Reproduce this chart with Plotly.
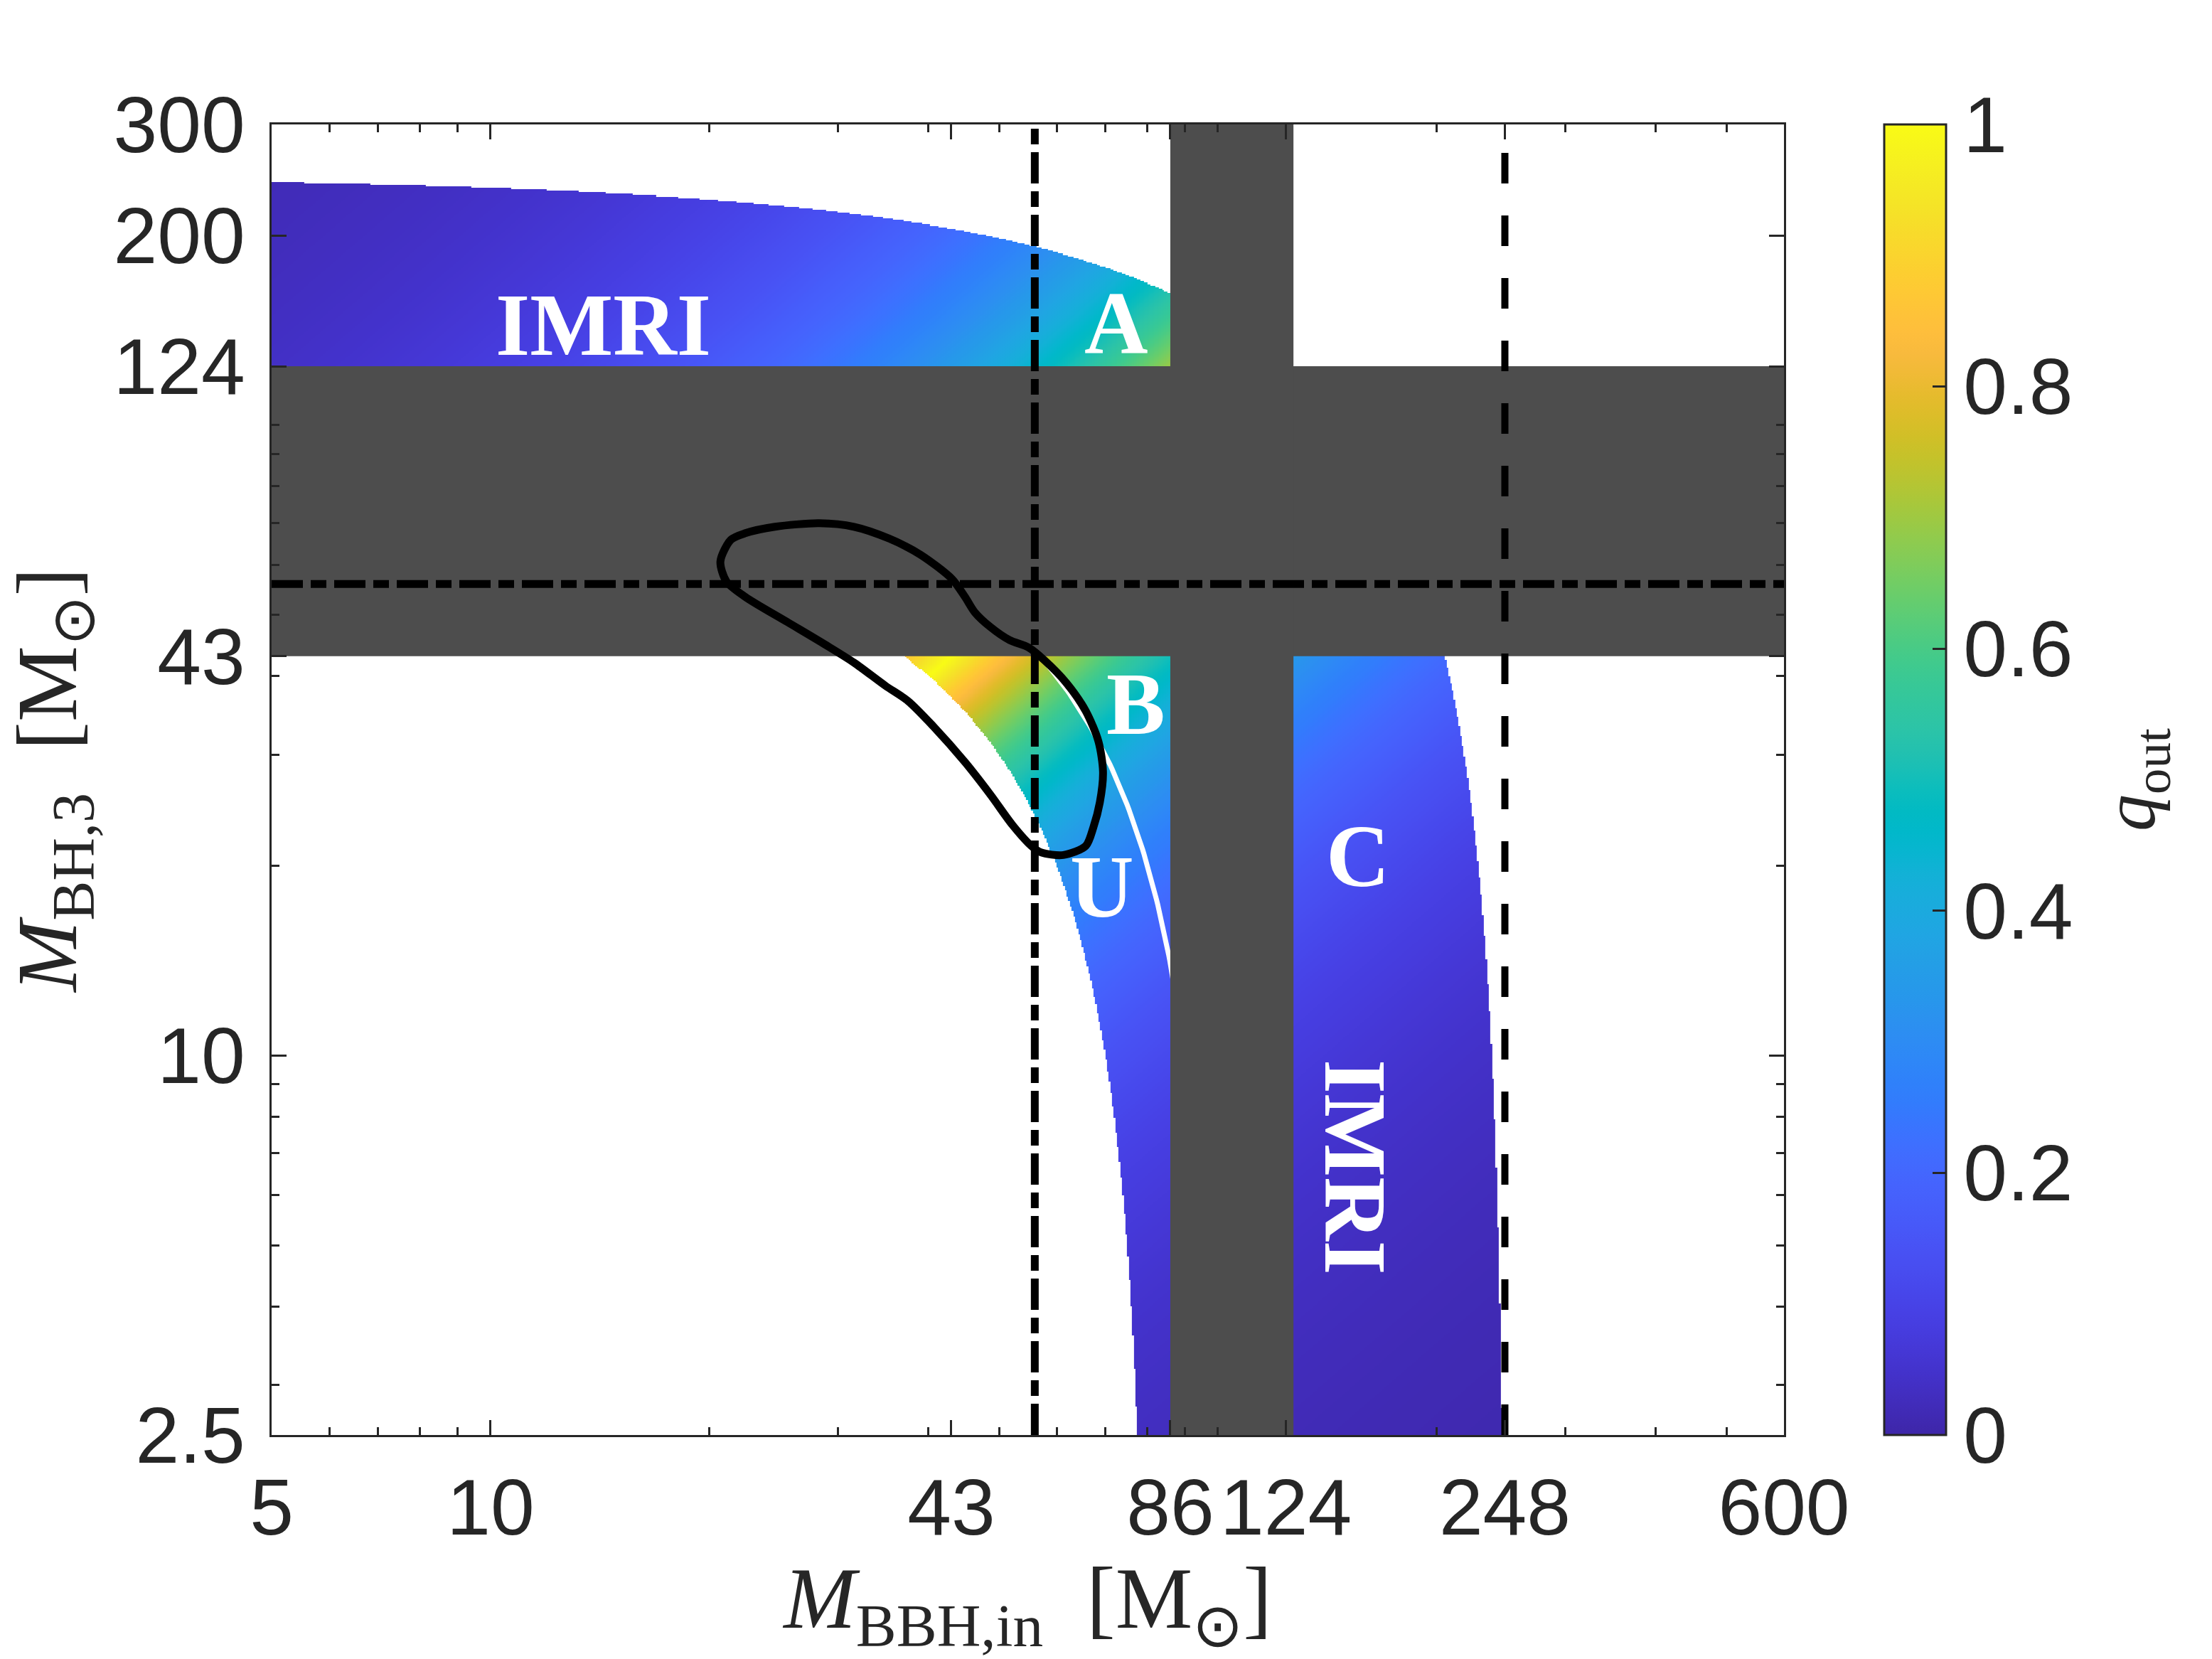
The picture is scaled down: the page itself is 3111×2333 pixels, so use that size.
import numpy as np
import plotly.graph_objects as go

# --- values ---
x_ticks = [5, 10, 43, 86, 124, 248, 600]
y_ticks = [2.5, 10, 43, 124, 200, 300]
x_minor = [6, 7, 8, 9, 20, 30, 40, 50, 60, 70, 80, 90, 100, 200, 300, 400, 500]
y_minor = [3, 4, 5, 6, 7, 8, 9, 20, 30, 40, 50, 60, 70, 80, 90, 100]
cbar_ticks = [0, 0.2, 0.4, 0.6, 0.8, 1]

x_range = [5, 600]
y_range = [2.5, 300]

# total mass limits of the coloured band (M_BBH,in + M_BH,3)
mtot_min = 80
mtot_max = 248
mtot_line = 100          # thin white line inside the band

# excluded (grey) bands
band_h = [43, 124]       # in M_BH,3
band_v = [86, 127]       # in M_BBH,in

# reference lines
dashdot_x = 56
dashdot_y = 56
dashed_x = 248

# closed black contour
contour_x = [20.7, 21.4, 22.4, 24.6, 28.3, 31.6, 35.3, 39.0, 43.1, 44.9, 46.3, 48.7,
             51.7, 54.9, 57.7, 61.9, 65.8, 68.5, 69.5, 68.8, 67.4, 65.8, 61.3, 57.1,
             55.4, 52.2, 48.7, 44.9, 40.6, 37.5, 34.9, 31.6, 28.9, 25.6, 22.4, 21.1, 20.7]
contour_y = [60.8, 65.8, 67.4, 69.0, 69.9, 69.0, 66.1, 62.3, 57.0, 53.4, 50.5, 47.8,
             45.6, 44.4, 42.4, 39.0, 35.2, 31.5, 28.2, 25.2, 23.0, 21.5, 20.8, 21.0,
             21.5, 23.2, 25.9, 29.2, 33.3, 36.5, 38.6, 42.0, 44.8, 48.7, 53.4, 56.5, 60.8]

# region labels: text, x, y, angle
labels = [("IMRI", 14.3, 144, 0), ("A", 72.5, 145, 0), ("B", 77.2, 36.1, 0),
          ("U", 69.3, 18.5, 0), ("C", 155.8, 20.7, 0), ("IMRI", 154.1, 6.66, 90)]

# parula colormap (64 entries)
parula = [
    (0.2422, 0.1504, 0.6603), (0.2504, 0.1650, 0.7076), (0.2578, 0.1818, 0.7511), (0.2647, 0.1978, 0.7952),
    (0.2706, 0.2147, 0.8364), (0.2751, 0.2342, 0.8710), (0.2783, 0.2559, 0.8991), (0.2803, 0.2782, 0.9221),
    (0.2813, 0.3006, 0.9414), (0.2810, 0.3228, 0.9579), (0.2795, 0.3447, 0.9717), (0.2760, 0.3667, 0.9829),
    (0.2699, 0.3892, 0.9906), (0.2602, 0.4123, 0.9952), (0.2440, 0.4358, 0.9988), (0.2206, 0.4603, 0.9973),
    (0.1963, 0.4847, 0.9892), (0.1834, 0.5074, 0.9798), (0.1786, 0.5289, 0.9682), (0.1764, 0.5499, 0.9520),
    (0.1687, 0.5703, 0.9359), (0.1540, 0.5902, 0.9218), (0.1460, 0.6091, 0.9079), (0.1380, 0.6276, 0.8973),
    (0.1248, 0.6459, 0.8883), (0.1113, 0.6635, 0.8763), (0.0952, 0.6798, 0.8598), (0.0689, 0.6948, 0.8394),
    (0.0297, 0.7082, 0.8163), (0.0036, 0.7203, 0.7917), (0.0067, 0.7312, 0.7660), (0.0433, 0.7411, 0.7394),
    (0.0964, 0.7500, 0.7120), (0.1408, 0.7584, 0.6842), (0.1717, 0.7670, 0.6554), (0.1938, 0.7758, 0.6251),
    (0.2161, 0.7843, 0.5923), (0.2470, 0.7918, 0.5567), (0.2906, 0.7973, 0.5188), (0.3406, 0.8008, 0.4789),
    (0.3909, 0.8029, 0.4354), (0.4456, 0.8024, 0.3909), (0.5044, 0.7993, 0.3480), (0.5616, 0.7942, 0.3045),
    (0.6174, 0.7876, 0.2612), (0.6720, 0.7793, 0.2227), (0.7242, 0.7698, 0.1910), (0.7738, 0.7598, 0.1646),
    (0.8203, 0.7498, 0.1535), (0.8634, 0.7406, 0.1596), (0.9035, 0.7330, 0.1774), (0.9393, 0.7288, 0.2100),
    (0.9728, 0.7298, 0.2394), (0.9956, 0.7434, 0.2371), (0.9970, 0.7659, 0.2199), (0.9952, 0.7893, 0.2028),
    (0.9892, 0.8136, 0.1885), (0.9786, 0.8386, 0.1766), (0.9676, 0.8639, 0.1643), (0.9610, 0.8890, 0.1537),
    (0.9597, 0.9135, 0.1423), (0.9628, 0.9373, 0.1265), (0.9691, 0.9606, 0.1064), (0.9769, 0.9839, 0.0805),
]
colorscale = [[i / (len(parula) - 1), "rgb(%d,%d,%d)" % tuple(round(c * 255) for c in rgb)]
              for i, rgb in enumerate(parula)]

GREY = "#4d4d4d"
AXC = "#262626"
SANS = "Liberation Sans"
SERIF = "Liberation Serif"

# plot box in pixels
L, R, T, B = 382, 2509, 175, 2018
W, H = 3111, 2333

# --- q_out field on a log grid ---
gx = np.logspace(np.log10(x_range[0]), np.log10(x_range[1]), 900)
gy = np.logspace(np.log10(y_range[0]), np.log10(y_range[1]), 900)
MX, MY = np.meshgrid(gx, gy)
mtot = MX + MY
q = np.minimum(MX, MY) / np.maximum(MX, MY)
q = np.where((mtot >= mtot_min) & (mtot <= mtot_max), np.round(q, 3), np.nan)

fig = go.Figure()

fig.add_trace(go.Heatmap(
    x=gx, y=gy, z=q, zmin=0, zmax=1, colorscale=colorscale, hoverinfo="skip",
    colorbar=dict(
        x=(2650 - L) / (R - L), xanchor="left", xpad=0, ypad=0,
        y=0.5, yanchor="middle", len=1, lenmode="fraction", thickness=87,
        outlinecolor=AXC, outlinewidth=3,
        tickvals=cbar_ticks, ticktext=[("%g" % v) for v in cbar_ticks],
        ticks="inside", ticklen=20, tickwidth=3, tickcolor=AXC,
        tickfont=dict(family=SANS, size=111, color=AXC),
    ),
))

# white line at fixed total mass
ly = np.logspace(np.log10(y_range[0]), np.log10(mtot_line - x_range[0]), 200)
fig.add_trace(go.Scatter(x=mtot_line - ly, y=ly, mode="lines",
                         line=dict(color="white", width=7), hoverinfo="skip"))

# grey excluded bands
fig.add_trace(go.Scatter(
    x=[x_range[0], x_range[1], x_range[1], x_range[0], x_range[0]],
    y=[band_h[0], band_h[0], band_h[1], band_h[1], band_h[0]],
    mode="lines", fill="toself", fillcolor=GREY, line=dict(width=0), hoverinfo="skip"))
fig.add_trace(go.Scatter(
    x=[band_v[0], band_v[1], band_v[1], band_v[0], band_v[0]],
    y=[y_range[0], y_range[0], y_range[1], y_range[1], y_range[0]],
    mode="lines", fill="toself", fillcolor=GREY, line=dict(width=0), hoverinfo="skip"))

# contour
fig.add_trace(go.Scatter(x=contour_x, y=contour_y, mode="lines",
                         line=dict(color="black", width=11, shape="spline", smoothing=0.8),
                         hoverinfo="skip"))

# reference lines
dd = "44px,11px,22px,11px"
fig.add_trace(go.Scatter(x=[dashdot_x, dashdot_x], y=y_range, mode="lines",
                         line=dict(color="black", width=11, dash=dd), hoverinfo="skip"))
fig.add_trace(go.Scatter(x=x_range, y=[dashdot_y, dashdot_y], mode="lines",
                         line=dict(color="black", width=11, dash=dd), hoverinfo="skip"))
fig.add_trace(go.Scatter(x=[dashed_x, dashed_x], y=y_range, mode="lines",
                         line=dict(color="black", width=10, dash="43px,45px"), hoverinfo="skip"))

for txt, lx, lyy, ang in labels:
    fig.add_annotation(x=np.log10(lx), y=np.log10(lyy), xref="x", yref="y", text=txt,
                       showarrow=False, textangle=ang,
                       font=dict(family=SERIF, size=124, color="white", weight="bold"))

# colorbar title
fig.add_annotation(x=(3002 - L) / (R - L), y=(B - 1097) / (B - T), xref="paper", yref="paper",
                   text="<i>q</i><sub>out</sub>", showarrow=False, textangle=-90,
                   xanchor="center", yanchor="middle",
                   font=dict(family=SERIF, size=104, color=AXC))

axis_common = dict(
    type="log", showgrid=False, zeroline=False,
    showline=True, linecolor=AXC, linewidth=3, mirror="ticks",
    ticks="inside", ticklen=21, tickwidth=3, tickcolor=AXC,
    tickfont=dict(family=SANS, size=111, color=AXC),
    automargin=False,
)

fig.update_xaxes(
    **axis_common,
    range=[np.log10(x_range[0]), np.log10(x_range[1])],
    tickvals=x_ticks, ticktext=[str(v) for v in x_ticks],
    minor=dict(tickvals=x_minor, ticks="inside", ticklen=11, tickwidth=3, tickcolor=AXC),
    ticklabelstandoff=4,
    title=dict(text="<i>M</i><sub>BBH,in</sub>\u2002[M<sub>\u2299</sub>]", standoff=40,
               font=dict(family=SERIF, size=122, color=AXC)),
)
fig.update_yaxes(
    **axis_common,
    range=[np.log10(y_range[0]), np.log10(y_range[1])],
    tickvals=y_ticks, ticktext=[("%g" % v) for v in y_ticks],
    minor=dict(tickvals=y_minor, ticks="inside", ticklen=11, tickwidth=3, tickcolor=AXC),
    ticklabelstandoff=12,
    title=dict(text="<i>M</i><sub>BH,3</sub>\u2002[M<sub>\u2299</sub>]", standoff=88,
               font=dict(family=SERIF, size=120, color=AXC)),
)

fig.update_layout(
    width=W, height=H,
    margin=dict(l=L, r=W - R, t=T, b=H - B),
    paper_bgcolor="white", plot_bgcolor="white",
    showlegend=False,
)

fig.write_html("out.html", config={"displayModeBar": False},
               post_script="document.body.style.margin='0px';")
